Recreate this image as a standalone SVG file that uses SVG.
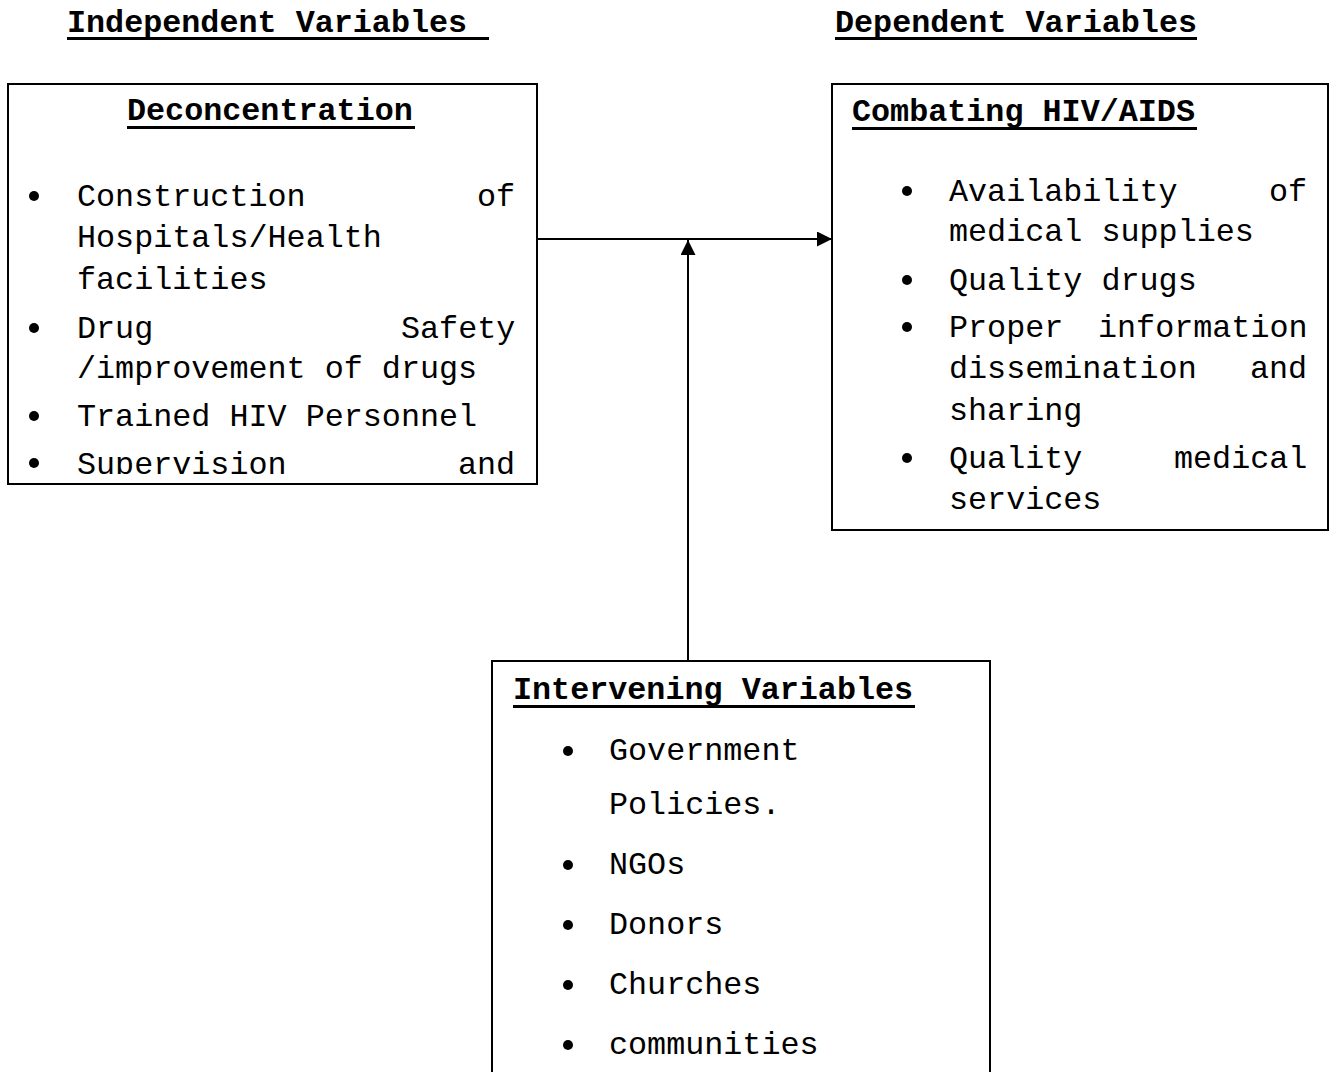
<svg xmlns="http://www.w3.org/2000/svg" width="1330" height="1072" viewBox="0 0 1330 1072">
<style>
.t{font-family:"Liberation Mono","Courier New",monospace;font-size:31.75px;fill:#000}
.b{font-weight:bold}
.box{fill:#fff;stroke:#000;stroke-width:2}
.ul{fill:#000}
.conn{stroke:#000;stroke-width:2;fill:none}
</style>
<defs>
<marker id="ah" viewBox="0 0 10 10" refX="10" refY="5" markerWidth="15" markerHeight="15" markerUnits="userSpaceOnUse" orient="auto">
<path d="M0,0 L10,5 L0,10 Z" fill="#000"/>
</marker>
<clipPath id="clipL"><rect x="8" y="84" width="529" height="390"/></clipPath>
</defs>
<rect width="1330" height="1072" fill="#fff"/>
<g id="headers">
<text class="t b" x="67" y="32">Independent Variables</text>
<rect class="ul" x="67" y="37" width="422" height="3"/>
<text class="t b" x="835" y="32">Dependent Variables</text>
<rect class="ul" x="835" y="37" width="362" height="3"/>
</g>
<g id="node-deconcentration">
<rect class="box" x="8" y="84" width="529" height="400"/>
<text class="t b" x="127" y="120">Deconcentration</text>
<rect class="ul" x="127" y="126" width="288" height="3"/>
<g clip-path="url(#clipL)">
<circle cx="34" cy="196" r="5"/>
<text class="t" x="77" y="206">Construction</text><text class="t" x="477" y="206">of</text>
<text class="t" x="77" y="247">Hospitals/Health</text>
<text class="t" x="77" y="289">facilities</text>
<circle cx="34" cy="328" r="5"/>
<text class="t" x="77" y="338">Drug</text><text class="t" x="401" y="338">Safety</text>
<text class="t" x="77" y="378">/improvement of drugs</text>
<circle cx="34" cy="416" r="5"/>
<text class="t" x="77" y="426">Trained HIV Personnel</text>
<circle cx="34" cy="463" r="5"/>
<text class="t" x="77" y="474">Supervision</text><text class="t" x="458" y="474">and</text>
</g>
</g>
<g id="node-combating">
<rect class="box" x="832" y="84" width="496" height="446"/>
<text class="t b" x="852" y="121">Combating HIV/AIDS</text>
<rect class="ul" x="852" y="127" width="345" height="3"/>
<circle cx="907" cy="191" r="5"/>
<text class="t" x="949" y="201">Availability</text><text class="t" x="1269" y="201">of</text>
<text class="t" x="949" y="241">medical supplies</text>
<circle cx="907" cy="280" r="5"/>
<text class="t" x="949" y="290">Quality drugs</text>
<circle cx="907" cy="327" r="5"/>
<text class="t" x="949" y="337">Proper</text><text class="t" x="1098" y="337">information</text>
<text class="t" x="949" y="378">dissemination</text><text class="t" x="1250" y="378">and</text>
<text class="t" x="949" y="420">sharing</text>
<circle cx="907" cy="458" r="5"/>
<text class="t" x="949" y="468">Quality</text><text class="t" x="1174" y="468">medical</text>
<text class="t" x="949" y="509">services</text>
</g>
<g id="node-intervening">
<rect class="box" x="492" y="661" width="498" height="420"/>
<text class="t b" x="513" y="699">Intervening Variables</text>
<rect class="ul" x="513" y="705" width="402" height="3"/>
<circle cx="568" cy="751" r="5"/>
<text class="t" x="609" y="760">Government</text>
<text class="t" x="609" y="814">Policies.</text>
<circle cx="568" cy="865" r="5"/>
<text class="t" x="609" y="874">NGOs</text>
<circle cx="568" cy="925" r="5"/>
<text class="t" x="609" y="934">Donors</text>
<circle cx="568" cy="985" r="5"/>
<text class="t" x="609" y="994">Churches</text>
<circle cx="568" cy="1045" r="5"/>
<text class="t" x="609" y="1054">communities</text>
</g>
<g id="connectors">
<line class="conn" x1="537" y1="239" x2="832" y2="239" marker-end="url(#ah)"/>
<line class="conn" x1="688" y1="660" x2="688" y2="240" marker-end="url(#ah)"/>
</g>
</svg>
